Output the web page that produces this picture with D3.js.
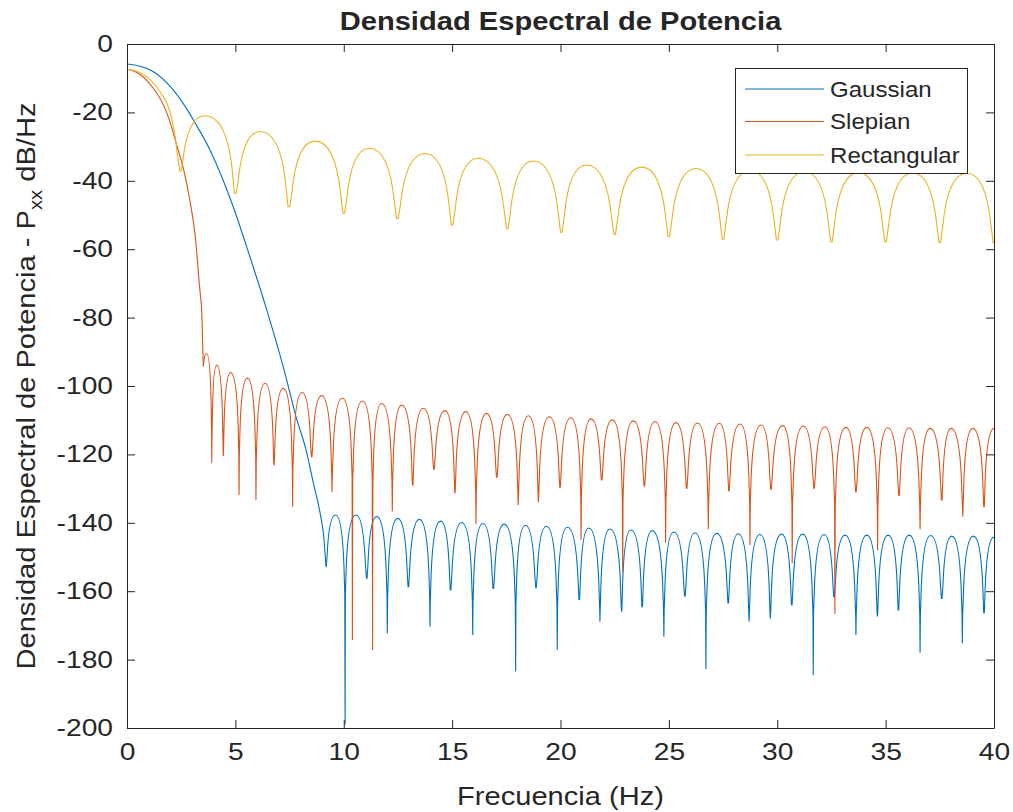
<!DOCTYPE html>
<html><head><meta charset="utf-8">
<script src="https://cdn.jsdelivr.net/npm/d3@7"></script>
<style>
body{margin:0;background:#fff}
svg{display:block}
text{font-family:"Liberation Sans",Arial,Helvetica,sans-serif;fill:#262626}
</style>
</head><body>
<svg id="c" width="1013" height="812"></svg>
<script>
// ---------- data ----------
const xTicks = [0, 5, 10, 15, 20, 25, 30, 35, 40];
const yTicks = [0, -20, -40, -60, -80, -100, -120, -140, -160, -180, -200];
const seriesNames = ["Gaussian", "Slepian", "Rectangular"];
const seriesColors = ["#0072BD", "#D95319", "#EDB120"];

// Gaussian window
const gaussMainHz = [0, 0.6, 1.22, 1.98, 2.75, 3.09, 3.83, 4.9, 5.67, 6.45, 7.21, 7.8, 8.26, 8.6, 8.94, 9.06, 9.18];
const gaussMainDb = [-5.85, -6.5, -8.1, -12.3, -18.9, -22.5, -31, -47.6, -62.2, -77.8, -94.4, -109, -118.7, -128.4, -138.2, -143, -152.8];
const gaussNullHz = [9.18, 10.06, 11.06, 12.01, 12.98, 13.98, 14.93, 15.95, 16.9, 17.93, 18.87, 19.85, 20.87, 21.82, 22.82, 23.77, 24.77, 25.74, 26.71, 27.74, 28.7, 29.68, 30.67, 31.66, 32.62, 33.63, 34.62, 35.59, 36.59, 37.59, 38.54, 39.54];
const gaussNullDb = [-152.8, -199, -156.2, -172.3, -158.7, -170.4, -159.6, -172.8, -159.2, -183.5, -159, -177.2, -162.4, -168.9, -166, -164.5, -173.3, -161.4, -182.8, -163.4, -168.9, -168, -164, -184.5, -161.6, -172.8, -167.4, -165.5, -178, -162.1, -175.2, -166.3];
const gaussPeakHz = [9.62, 10.56, 11.52, 12.49, 13.49, 14.47, 15.44, 16.42, 17.4, 18.38, 19.35, 20.32, 21.3, 22.28, 23.25, 24.23, 25.23, 26.2, 27.21, 28.2, 29.2, 30.2, 31.17, 32.16, 33.13, 34.13, 35.12, 36.09, 37.08, 38.05, 39.05, 40];
const gaussPeakDb = [-137.7, -137.7, -138.2, -138.7, -139, -139.5, -139.9, -140.2, -140.4, -140.7, -141, -141.3, -141.5, -141.8, -142.1, -142.3, -142.7, -142.9, -143.1, -143.2, -143.4, -143.3, -143.3, -143.4, -143.6, -143.6, -143.6, -143.6, -143.7, -143.9, -143.9, -144.2];

// Slepian window
const slepMainHz = [0, 0.6, 1.22, 1.68, 1.98, 2.29, 2.6, 2.91, 3.14, 3.26, 3.32, 3.37, 3.45, 3.49, 3.52];
const slepMainDb = [-7.4, -8.9, -13, -17.8, -22.7, -29.5, -36.4, -46.1, -55.8, -64.1, -69, -72.4, -78.7, -87.5, -94.2];
const slepNullHz = [3.52, 3.91, 4.44, 5.17, 5.95, 6.78, 7.64, 8.52, 9.46, 10.4, 11.33, 12.24, 13.18, 14.16, 15.13, 16.1, 17.06, 18.05, 18.98, 19.98, 20.95, 21.9, 22.87, 23.87, 24.85, 25.82, 26.82, 27.77, 28.74, 29.71, 30.69, 31.7, 32.66, 33.63, 34.63, 35.62, 36.59, 37.59, 38.56, 39.54];
const slepNullDb = [-94.2, -122.6, -120.5, -131.9, -133.3, -123.1, -135.3, -120.7, -131, -174.3, -177.2, -136.7, -129, -124.3, -131.4, -140.4, -126.7, -134.8, -134, -129.6, -145, -127.5, -154.3, -129.2, -145.8, -129.9, -141.9, -130.6, -146.5, -130.2, -151.8, -129.9, -166.7, -130.9, -148, -131.9, -141.9, -133.3, -138.2, -135.3];
const slepPeakHz = [3.67, 4.14, 4.78, 5.55, 6.37, 7.21, 8.08, 8.98, 9.93, 10.86, 11.75, 12.67, 13.67, 14.67, 15.63, 16.59, 17.55, 18.52, 19.49, 20.47, 21.41, 22.39, 23.36, 24.36, 25.33, 26.32, 27.33, 28.28, 29.25, 30.25, 31.2, 32.2, 33.17, 34.13, 35.1, 36.08, 37.05, 38.02, 39.02, 40];
const slepPeakDb = [-90.5, -93.9, -96.1, -97.7, -99.2, -100.7, -101.9, -102.8, -103.6, -104.4, -105.1, -105.6, -106.5, -107.2, -107.5, -108, -108.3, -108.7, -109, -109.3, -109.6, -109.9, -110.2, -110.4, -110.7, -110.8, -110.9, -111.1, -111.4, -111.6, -111.7, -111.9, -112.1, -112.1, -112.2, -112.2, -112.4, -112.4, -112.4, -112.4];

// Rectangular window
const rectMainHz = [0, 0.45, 0.91, 1.52, 1.98, 2.21, 2.37, 2.45];
const rectMainDb = [-7.4, -8.0, -9.6, -13.9, -19.8, -26.6, -34.4, -37.3];
const rectNullHz = [2.45, 5.0, 7.47, 10.0, 12.47, 15.0, 17.55, 20.04, 22.5, 25.0, 27.5, 30.0, 32.5, 35.0, 37.5, 40];
const rectNullDb = [-37.3, -43.7, -47.6, -49.5, -51, -52.9, -54, -55, -55.6, -56.3, -57.1, -57.3, -57.8, -57.8, -58, -58];
const rectPeakHz = [3.6, 6.14, 8.67, 11.18, 13.75, 16.2, 18.75, 21.2, 23.75, 26.25, 28.75, 31.25, 33.75, 36.25, 38.75];
const rectPeakDb = [-21, -25.6, -28.4, -30.5, -32, -33.4, -34.2, -35.4, -36, -36.4, -37, -37.3, -37.6, -37.7, -37.8];

// ---------- chart ----------
const svg = d3.select("#c");
const x = d3.scaleLinear().domain([0, 40]).range([127, 994]);
const y = d3.scaleLinear().domain([-200, 0]).range([728, 44]);
const TICK = 8;
const TICK_STRETCH = 1.2, TEXT_STRETCH = 1.12;
const axisColor = "#262626";
const fmt = d => String(d); // plain hyphen-minus like the reference

svg.append("rect").attr("width", 1013).attr("height", 812).attr("fill", "#fff");
svg.append("defs").append("clipPath").attr("id", "clip")
  .append("rect").attr("x", x(0)).attr("y", y(0)).attr("width", x(40) - x(0)).attr("height", y(-200) - y(0));

const series = [
  {main: d3.zip(gaussMainHz, gaussMainDb), nulls: d3.zip(gaussNullHz, gaussNullDb), peaks: d3.zip(gaussPeakHz, gaussPeakDb)},
  {main: d3.zip(slepMainHz, slepMainDb), nulls: d3.zip(slepNullHz, slepNullDb), peaks: d3.zip(slepPeakHz, slepPeakDb)},
  {main: d3.zip(rectMainHz, rectMainDb), nulls: d3.zip(rectNullHz, rectNullDb), peaks: d3.zip(rectPeakHz, rectPeakDb)}
];

const mainLine = d3.line().x(d => x(d[0])).y(d => y(d[1])).curve(d3.curveMonotoneX);

// side lobes: arch through each read peak, sharp dip to each read null
function lobePath(nulls, peaks) {
  const seq = nulls.map(d => ({hz: d[0], db: d[1], isNull: true}))
    .concat(peaks.map(d => ({hz: d[0], db: d[1], isNull: false})))
    .sort((a, b) => a.hz - b.hz);
  const p = d3.path();
  p.moveTo(x(seq[0].hz), y(seq[0].db));
  for (let i = 1; i < seq.length; i++) {
    const a = seq[i - 1], b = seq[i];
    const n = a.isNull ? a : b, pk = a.isNull ? b : a;
    const D = pk.db - n.db;
    const Hd = Math.min(15, 0.8 * D);
    const dx = pk.hz - n.hz;
    const s = {hz: n.hz + 0.114 * dx, db: pk.db - Hd};
    const m = {hz: n.hz + 0.03 * dx, db: Math.max(n.db, pk.db - Hd - 8)};
    const w = pk.hz - s.hz;
    const c1 = {hz: s.hz + 0.1 * w, db: s.db + 0.45 * Hd};
    const c2 = {hz: s.hz + 0.35 * w, db: pk.db};
    if (a.isNull) {
      p.lineTo(x(m.hz), y(m.db));
      p.lineTo(x(s.hz), y(s.db));
      p.bezierCurveTo(x(c1.hz), y(c1.db), x(c2.hz), y(c2.db), x(pk.hz), y(pk.db));
    } else {
      p.bezierCurveTo(x(c2.hz), y(c2.db), x(c1.hz), y(c1.db), x(s.hz), y(s.db));
      p.lineTo(x(m.hz), y(m.db));
      p.lineTo(x(n.hz), y(n.db));
    }
  }
  return p.toString();
}

const plot = svg.append("g").attr("clip-path", "url(#clip)");
series.forEach((s, i) => {
  const g = plot.append("g").attr("fill", "none").attr("stroke", seriesColors[i]).attr("stroke-width", 1.1);
  g.append("path").attr("d", mainLine(s.main));
  g.append("path").attr("d", lobePath(s.nulls, s.peaks));
});

function styleAxis(g) {
  g.selectAll("path.domain").attr("stroke", axisColor);
  g.selectAll(".tick line").attr("stroke", axisColor);
  g.selectAll("text").attr("fill", axisColor);
}
const axB = svg.append("g").attr("transform", `translate(0,${y(-200)})`)
  .call(d3.axisBottom(x).tickValues(xTicks).tickFormat(fmt).tickSize(-TICK).tickSizeOuter(0).tickPadding(15))
  .call(styleAxis);
axB.selectAll("text").attr("font-size", 23.5).attr("font-family", "Liberation Sans, Arial, sans-serif")
  .attr("transform", `scale(${TICK_STRETCH},1)`);
svg.append("g").attr("transform", `translate(0,${y(0)})`)
  .call(d3.axisTop(x).tickValues(xTicks).tickSize(-TICK).tickSizeOuter(0).tickFormat(""))
  .call(styleAxis);
const axL = svg.append("g").attr("transform", `translate(${x(0)},0)`)
  .call(d3.axisLeft(y).tickValues(yTicks).tickFormat(fmt).tickSize(-TICK).tickSizeOuter(0).tickPadding(14))
  .call(styleAxis);
axL.selectAll("text").attr("font-size", 23.5).attr("font-family", "Liberation Sans, Arial, sans-serif")
  .attr("x", -14 / TICK_STRETCH).attr("transform", `scale(${TICK_STRETCH},1)`);
svg.append("g").attr("transform", `translate(${x(40)},0)`)
  .call(d3.axisRight(y).tickValues(yTicks).tickSize(-TICK).tickSizeOuter(0).tickFormat(""))
  .call(styleAxis);

svg.append("text").attr("transform", `translate(${(x(0) + x(40)) / 2},30) scale(${TEXT_STRETCH},1)`)
  .attr("text-anchor", "middle").attr("font-size", 26).attr("font-weight", "bold").attr("fill", "#000")
  .text("Densidad Espectral de Potencia");
svg.append("text").attr("transform", `translate(${(x(0) + x(40)) / 2},805) scale(${TEXT_STRETCH},1)`)
  .attr("text-anchor", "middle").attr("font-size", 26).attr("fill", axisColor)
  .text("Frecuencia (Hz)");
const yl = svg.append("text")
  .attr("transform", `translate(35,${(y(0) + y(-200)) / 2}) rotate(-90) scale(${TEXT_STRETCH},1)`)
  .attr("text-anchor", "middle").attr("font-size", 26).attr("fill", axisColor);
yl.append("tspan").text("Densidad Espectral de Potencia - P");
yl.append("tspan").attr("font-size", 18).attr("dy", 7).text("xx");
yl.append("tspan").attr("dy", -7).text(" dB/Hz");

const lg = svg.append("g");
lg.append("rect").attr("x", 735.5).attr("y", 68.5).attr("width", 232).attr("height", 105)
  .attr("fill", "#fff").attr("stroke", axisColor).attr("stroke-width", 1);
const legY = [89, 121.5, 155];
seriesNames.forEach((name, i) => {
  lg.append("line").attr("x1", 745).attr("x2", 824).attr("y1", legY[i]).attr("y2", legY[i])
    .attr("stroke", seriesColors[i]).attr("stroke-width", 1.1);
  lg.append("text").attr("transform", `translate(830,${legY[i]}) scale(${TEXT_STRETCH},1)`)
    .attr("dy", "0.35em").attr("font-size", 21.5).attr("fill", "#000").text(name);
});
</script>
</body></html>
